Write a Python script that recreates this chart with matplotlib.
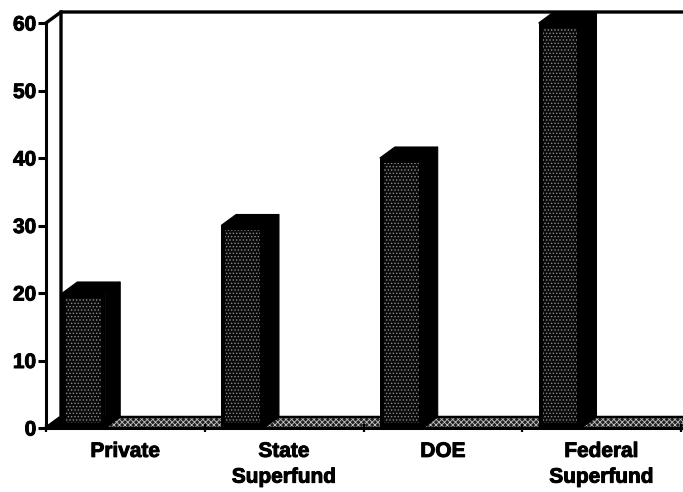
import matplotlib
matplotlib.use('Agg')
import matplotlib.pyplot as plt
from matplotlib.patches import Polygon
import matplotlib.patheffects as pe

plt.rcParams['font.family'] = ['Liberation Sans', 'DejaVu Sans']
plt.rcParams['font.weight'] = 'bold'
plt.rcParams['hatch.linewidth'] = 0.6

categories = ['Private', 'State\nSuperfund', 'DOE', 'Federal\nSuperfund']
values = [20, 30, 40, 60]
y_ticks = [0, 10, 20, 30, 40, 50, 60]

W, H = 683, 492
fig = plt.figure(figsize=(W / 100, H / 100), dpi=100)
ax = fig.add_axes([46 / W, 1 - 428 / H, 635 / W, 405 / H])
ax.set_xlim(0, 4)
ax.set_ylim(0, 60)
ax.patch.set_visible(False)

# depth of the 3d box in data units
dx = 15 / 158.75
dy = 11 / 6.75
x_end = 4.02

# floor, speckled light on black with a solid patch behind the first bar
floor = [(0, 0), (dx, dy), (x_end + dx, dy), (x_end, 0)]
ax.add_patch(Polygon(floor, closed=True, facecolor='#222222', edgecolor='#c4c4c4', lw=0,
                     hatch='xxxxxx', clip_on=False, zorder=1))
ax.add_patch(Polygon(floor, closed=True, fill=False, edgecolor='black', lw=1.8,
                     clip_on=False, zorder=1.2))
ax.add_patch(Polygon([(0, 0), (dx, dy), (0.3, dy), (0.2, 0)], closed=True,
                     facecolor='black', edgecolor='black', clip_on=False, zorder=1.5))

# back wall edges
ax.plot([0, dx, dx], [0, dy, 60 + dy], color='black', lw=2.4, clip_on=False, zorder=2)
ax.plot([0, dx, x_end], [60, 60 + dy, 60 + dy], color='black', lw=2.4, clip_on=False, zorder=2)

# bars: black block with a stippled panel inset in the front face
bar_w = 0.27
inset_x = 0.025
inset_y = 0.7
for i, v in enumerate(values):
    left = i + 0.5 - 0.397
    right = left + bar_w
    ax.add_patch(Polygon([(right, 0), (right + dx, dy), (right + dx, v + dy), (right, v)],
                         closed=True, facecolor='black', edgecolor='black', lw=0.8,
                         clip_on=False, zorder=3))
    ax.add_patch(Polygon([(left, v), (left + dx, v + dy), (right + dx, v + dy), (right, v)],
                         closed=True, facecolor='black', edgecolor='black', lw=0.8,
                         clip_on=False, zorder=3))
    ax.bar(left, v, width=bar_w, align='edge', color='black', lw=0, zorder=3)
    ax.bar(left + inset_x, v - 2 * inset_y, bottom=inset_y, width=bar_w - 2 * inset_x, align='edge',
           facecolor='#0a0a0a', edgecolor='#8c8c8c', hatch='.....', lw=0, zorder=4)

for s in ['top', 'right']:
    ax.spines[s].set_visible(False)
for s in ['left', 'bottom']:
    ax.spines[s].set_linewidth(2.2)
    ax.spines[s].set_zorder(5)

ax.set_yticks(y_ticks)
ax.tick_params(axis='y', length=6, width=2.2, pad=1, labelsize=15)
ax.set_xticks(range(5))
ax.set_xticklabels([])
ax.tick_params(axis='x', which='major', length=6, width=1.6, direction='inout')
ax.set_xticks([i + 0.5 for i in range(4)], minor=True)
ax.set_xticklabels(categories, minor=True, fontsize=15, linespacing=1.45, va='top')
ax.tick_params(axis='x', which='minor', length=0, pad=10)

# heavier strokes on all labels
for t in ax.get_xticklabels(minor=True) + ax.get_yticklabels():
    t.set_path_effects([pe.withStroke(linewidth=0.7, foreground='black')])

fig.savefig('out.png', dpi=100)
